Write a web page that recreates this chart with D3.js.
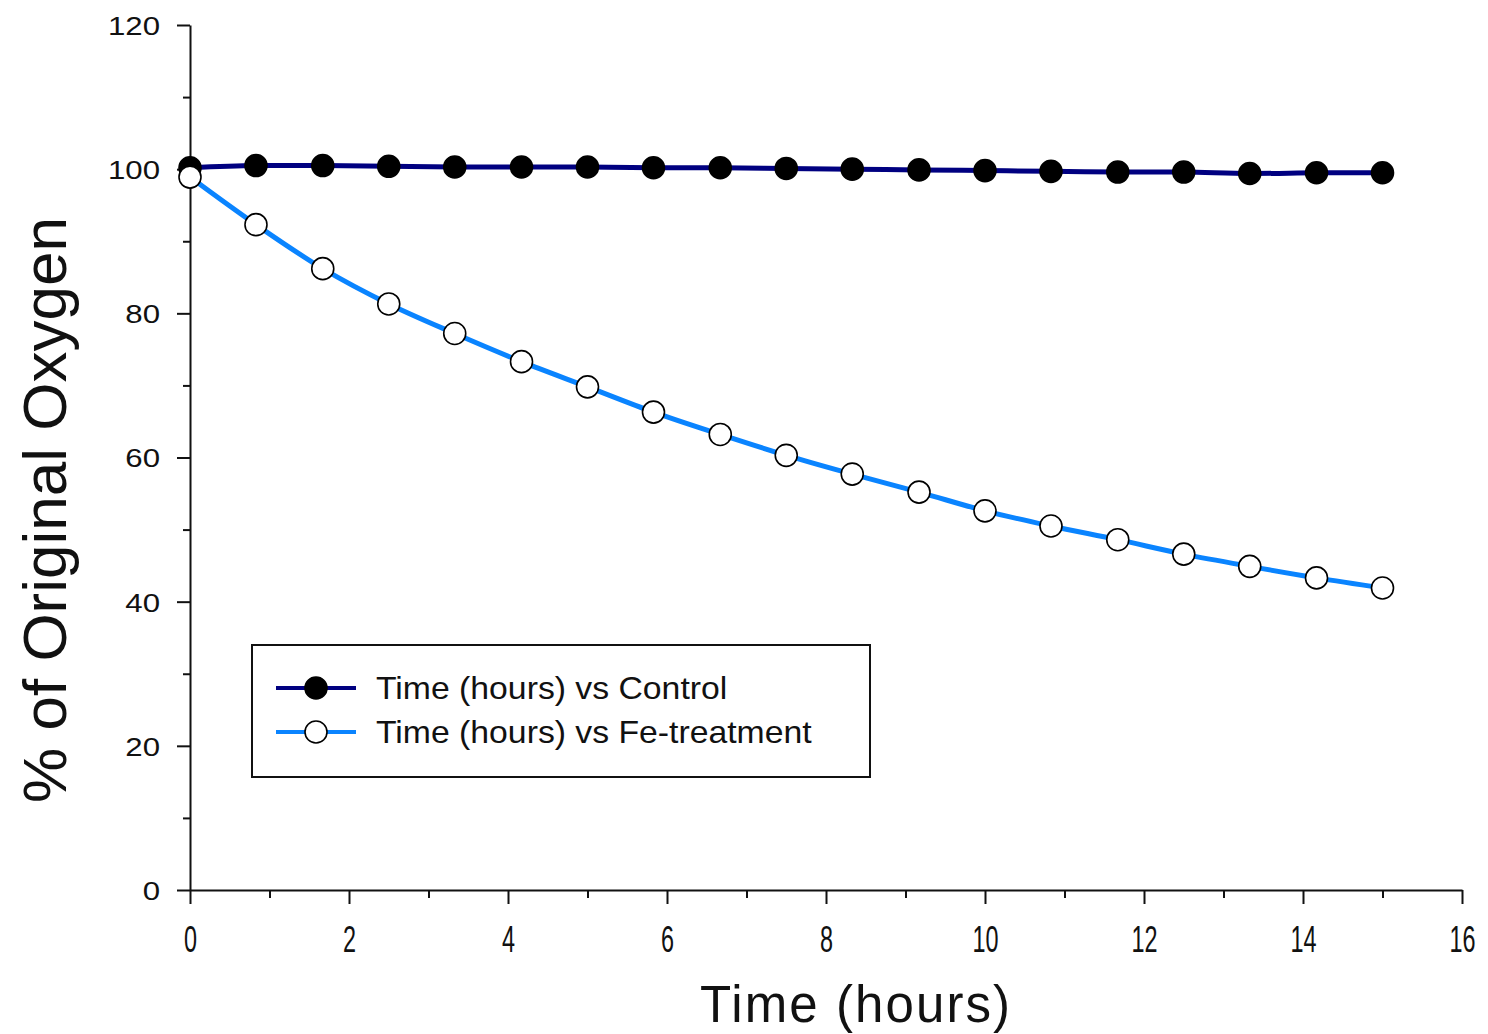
<!DOCTYPE html>
<html>
<head>
<meta charset="utf-8">
<script src="https://cdn.jsdelivr.net/npm/d3@7"></script>
<style>
  body { margin: 0; background: #fff; }
  text { font-family: "Liberation Sans", Arial, sans-serif; fill: #111; }
</style>
</head>
<body>
<svg id="chart"></svg>
<script>
// values
const hours = [0, 0.83, 1.67, 2.5, 3.33, 4.17, 5, 5.83, 6.67, 7.5, 8.33, 9.17, 10, 10.83, 11.67, 12.5, 13.33, 14.17, 15]
const control = [100.2, 100.5, 100.5, 100.4, 100.3, 100.3, 100.3, 100.2, 100.2, 100.1, 100.0, 99.9, 99.8, 99.7, 99.6, 99.6, 99.4, 99.5, 99.5]
const feTreatment = [98.9, 92.3, 86.2, 81.3, 77.2, 73.3, 69.8, 66.3, 63.2, 60.3, 57.7, 55.2, 52.6, 50.5, 48.6, 46.6, 44.9, 43.3, 41.9]

const xMajor = [0, 2, 4, 6, 8, 10, 12, 14, 16]
const xMinor = [1, 3, 5, 7, 9, 11, 13, 15]
const yMajor = [0, 20, 40, 60, 80, 100, 120]
const yMinor = [10, 30, 50, 70, 90, 110]

const seriesNames = ['Time (hours) vs Control', 'Time (hours) vs Fe-treatment']
const seriesColors = ['#000080', '#0a84ff']
const markerFills = ['#000', '#fff']

const svg = d3.select('#chart')
  .attr('width', 1488)
  .attr('height', 1034)

const x = d3.scaleLinear().domain([0, 16]).range([190, 1462])
const y = d3.scaleLinear().domain([0, 120]).range([890, 25])

// axes (major + minor ticks)
const yAx = svg.append('g').attr('transform', 'translate(190,0)')
yAx.call(d3.axisLeft(y).tickValues(yMajor).tickSize(13).tickSizeOuter(0).tickPadding(18))
svg.append('g').attr('transform', 'translate(190,0)')
  .call(d3.axisLeft(y).tickValues(yMinor).tickSize(7).tickFormat(''))
  .select('.domain').remove()

const xAx = svg.append('g').attr('transform', 'translate(0,890)')
xAx.call(d3.axisBottom(x).tickValues(xMajor).tickSize(14).tickSizeOuter(0).tickPadding(10))
svg.append('g').attr('transform', 'translate(0,890)')
  .call(d3.axisBottom(x).tickValues(xMinor).tickSize(8).tickFormat(''))
  .select('.domain').remove()

svg.selectAll('.domain, .tick line').attr('stroke', '#111').attr('stroke-width', 2)

yAx.selectAll('.tick text')
  .attr('font-size', 26)
  .attr('x', 0)
  .attr('dy', '0.36em')
  .attr('transform', 'translate(-30,0) scale(1.2,1)')

xAx.selectAll('.tick text')
  .attr('font-size', 26)
  .attr('y', 0)
  .attr('dy', '0.71em')
  .attr('transform', 'translate(0,35) scale(0.9,1.45)')

// titles
svg.append('text')
  .attr('transform', 'translate(66,510) rotate(-90)')
  .attr('text-anchor', 'middle')
  .attr('font-size', 62)
  .text('% of Original Oxygen')

svg.append('text')
  .attr('x', 855).attr('y', 1022)
  .attr('text-anchor', 'middle')
  .attr('font-size', 51)
  .attr('textLength', 310)
  .text('Time (hours)')

// lines and markers
const line = d3.line()
  .x((d, i) => x(hours[i]))
  .y(d => y(d))
  .curve(d3.curveCatmullRom)

const allSeries = [control, feTreatment]

allSeries.forEach((vals, s) => {
  svg.append('path')
    .datum(vals)
    .attr('fill', 'none')
    .attr('stroke', seriesColors[s])
    .attr('stroke-width', 5)
    .attr('d', line)
})

// control markers drawn first, Fe markers on top (like the original)
allSeries.forEach((vals, s) => {
  svg.append('g').selectAll('circle')
    .data(vals)
    .enter().append('circle')
      .attr('cx', (d, i) => x(hours[i]))
      .attr('cy', d => y(d))
      .attr('r', 11)
      .attr('fill', markerFills[s])
      .attr('stroke', '#000')
      .attr('stroke-width', 1.6)
})

// legend
const legend = svg.append('g')
legend.append('rect')
  .attr('x', 252).attr('y', 645)
  .attr('width', 618).attr('height', 132)
  .attr('fill', '#fff')
  .attr('stroke', '#111')
  .attr('stroke-width', 2)

seriesNames.forEach((name, s) => {
  const ly = 688 + s * 44
  legend.append('line')
    .attr('x1', 276).attr('x2', 356)
    .attr('y1', ly).attr('y2', ly)
    .attr('stroke', seriesColors[s])
    .attr('stroke-width', 4)
  legend.append('circle')
    .attr('cx', 316).attr('cy', ly).attr('r', 11)
    .attr('fill', markerFills[s])
    .attr('stroke', '#000')
    .attr('stroke-width', 1.6)
  legend.append('text')
    .attr('transform', `translate(376,${ly + 11}) scale(1.055,1)`)
    .attr('font-size', 32)
    .text(name)
})
</script>
</body>
</html>
